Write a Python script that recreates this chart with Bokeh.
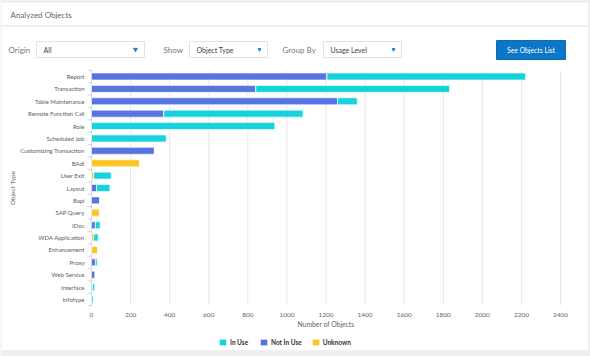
import math
from bokeh.plotting import figure
from bokeh.models import Range1d, Legend, LegendItem, ColumnDataSource
from bokeh.core.properties import value
from bokeh.embed import file_html
from bokeh.resources import INLINE

# ---------------- data ----------------
categories = ["Report", "Transaction", "Table Maintenance", "Remote Function Call",
              "Role", "Scheduled Job", "Customizing Transaction", "BAdI", "User Exit",
              "Layout", "Bapi", "SAP Query", "IDoc", "WDA Application", "Enhancement",
              "Proxy", "Web Service", "Interface", "Infotype"]
not_in_use = [1205, 841, 1259, 370, 0, 0, 322, 0, 0, 26, 43, 0, 20, 0, 0, 20, 19, 5, 0]
unknown =    [0, 0, 0, 0, 0, 0, 0, 246, 12, 0, 0, 41, 0, 12, 31, 0, 0, 0, 0]
in_use =     [1016, 991, 101, 712, 938, 382, 0, 0, 89, 68, 0, 0, 24, 22, 0, 9, 0, 10, 8]
x_ticks = list(range(0, 2401, 200))
x_tick_labels = [str(t) for t in x_ticks]

series_names = ["In Use", "Not In Use", "Unknown"]
colors = {"In Use": "#14d3dc", "Not In Use": "#5873e2", "Unknown": "#fdc526"}

ctrl_labels = ["Origin", "Show", "Group By"]
box_text = ["All", "Object Type", "Usage Level"]
button_text = "See Objects List"
title_text = "Analyzed Objects"
x_title = "Number of Objects"
y_title = "Object Type"

FONT = value("Lato")
GRAY = "#efefef"
W, H = 590, 356

# ---------------- layout geometry (pixels) ----------------
PLOT_L, PLOT_R = 91, 560          # x = 0 and x = 2400
ROW_TOP, ROW_BOT = 76, 299        # centres of first / last category
PLOT_T, PLOT_B = 70, 305          # vertical extent of grid
X_MAX = 2400

# main ranges are page pixels (for card decorations)
p = figure(width=W, height=H, x_range=Range1d(0, W), y_range=Range1d(H, 0),
           min_border=0, x_axis_type=None, y_axis_type=None,
           toolbar_location=None, output_backend="svg", outline_line_color=None)
p.grid.visible = False

# value / category scales for the chart itself
ppu = (PLOT_R - PLOT_L) / X_MAX
p.extra_x_ranges = {"val": Range1d(-PLOT_L / ppu, X_MAX + (W - PLOT_R) / ppu)}
n = len(categories)
row_px = (ROW_BOT - ROW_TOP) / (n - 1)
p.extra_y_ranges = {"rows": Range1d((H - ROW_TOP) / row_px, -ROW_TOP / row_px)}

# ---------------- card decorations ----------------
p.quad(left=[0, 0, 588, 0], right=[W, W, W, 1], top=[0, 350, 0, 0], bottom=[1.5, H, H, H],
       color=["#ebebeb", GRAY, GRAY, "#f5f5f5"])
p.quad(left=[1], right=[588], top=[25], bottom=[26], color="#f0f0f0")
p.text(x=[10], y=[14.5], text=[title_text], text_baseline="middle",
       text_font=FONT, text_font_size="8px", text_color="#666666")

p.text(x=[8, 163, 282], y=[49] * 3, text=ctrl_labels, text_baseline="middle",
       text_font=FONT, text_font_size="8px", text_color="#777777")
box_l = [36, 189, 323]
box_r = [144, 267, 401]
p.quad(left=box_l, right=box_r, top=[41] * 3, bottom=[57] * 3,
       fill_color="white", line_color="#e2e2e2")
p.text(x=[l + 7 for l in box_l], y=[49] * 3, text=box_text, text_baseline="middle",
       text_font=FONT, text_font_size="7px", text_color="#444444")
p.scatter(x=[135, 259, 393], y=[49] * 3, marker="inverted_triangle",
          size=[4, 3, 3], color="#2a7fd4")
p.quad(left=[496], right=[565], top=[40], bottom=[59], fill_color="#0b77c6",
       line_color="#0a6db6")
p.text(x=[530.5], y=[49.5], text=[button_text], text_baseline="middle",
       text_align="center", text_font=FONT, text_font_size="6.8px", text_color="white")

# ---------------- chart ----------------
rows = list(range(n))
src = ColumnDataSource(dict(row=rows, cat=categories, niu=not_in_use, unk=unknown, inu=in_use))

# vertical grid lines and y axis line
p.segment(x0=x_ticks, x1=x_ticks, y0=PLOT_T, y1=PLOT_B, x_range_name="val",
          line_color="#e8e8e8", line_width=1)
p.segment(x0=[0], x1=[0], y0=[PLOT_T], y1=[PLOT_B], x_range_name="val",
          line_color="#ccd6eb", line_width=1)
bounds = [r - 0.5 for r in rows] + [n - 0.5]
p.segment(x0=[-4 / ppu] * len(bounds), x1=[0] * len(bounds), y0=bounds, y1=bounds,
          x_range_name="val", y_range_name="rows", line_color="#ccd6eb", line_width=1)

rs = p.hbar_stack(["niu", "unk", "inu"], y="row", height=0.56, source=src,
                  x_range_name="val", y_range_name="rows",
                  color=[colors["Not In Use"], colors["Unknown"], colors["In Use"]],
                  line_color="white", line_width=1, line_alpha=0.6)
r_niu, r_unk, r_inu = rs

# category labels (y axis)
p.text(x=0, y="row", text="cat", source=src, x_range_name="val", y_range_name="rows",
       x_offset=-7, text_align="right", text_baseline="middle",
       text_font=FONT, text_font_size="6px", text_color="#606060")
# value labels (x axis)
p.text(x=x_ticks, y=[314] * len(x_ticks), text=x_tick_labels, x_range_name="val",
       text_align="center", text_baseline="middle",
       text_font=FONT, text_font_size="6.5px", text_color="#666666")
# axis titles
p.text(x=[(PLOT_L + PLOT_R) / 2], y=[323.5], text=[x_title], text_align="center",
       text_baseline="middle", text_font=FONT, text_font_size="6.8px", text_color="#666666")
p.text(x=[12], y=[(PLOT_T + PLOT_B) / 2], text=[y_title], angle=math.pi / 2,
       text_align="center", text_baseline="middle", text_font=FONT,
       text_font_size="6.5px", text_color="#666666")

legend = Legend(items=[LegendItem(label=series_names[0], renderers=[r_inu]),
                       LegendItem(label=series_names[1], renderers=[r_niu]),
                       LegendItem(label=series_names[2], renderers=[r_unk])],
                orientation="horizontal", location=(218, 10),
                label_text_font_size="6.5px", label_text_font="Lato",
                label_text_font_style="bold", label_text_color="#333333",
                glyph_width=9, glyph_height=8, label_standoff=3, spacing=9,
                padding=2, margin=0, border_line_color=None, background_fill_alpha=0,
                label_height=8)
p.add_layout(legend)

open("out.html", "w").write(file_html(p, INLINE))
